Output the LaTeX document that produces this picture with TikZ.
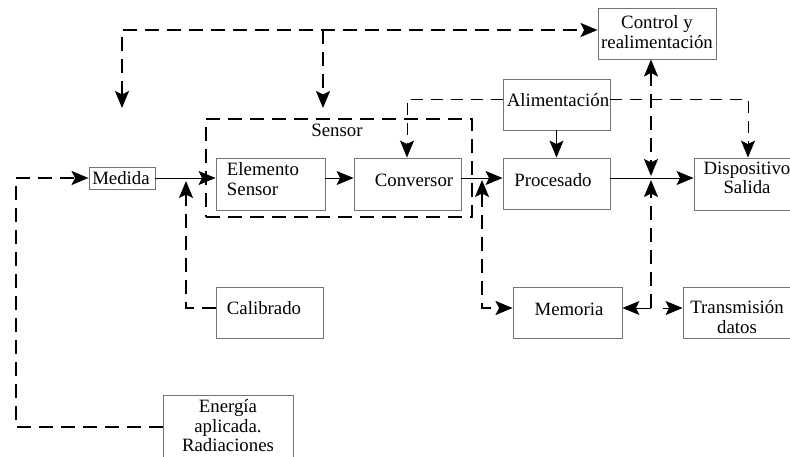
\documentclass[tikz,border=0pt]{standalone}
\usepackage{fontspec}
\setmainfont{Liberation Serif}
\usetikzlibrary{arrows.meta}
\begin{document}
\begin{tikzpicture}[x=1pt,y=-1pt,
 box/.style={draw=black!55, line width=0.9pt, inner sep=0pt},
 txt/.style={font=\fontsize{18.8}{19.5}\selectfont, align=center, inner sep=0pt},
 tip/.style={-{Stealth[length=17pt,width=14pt,inset=3.5pt]}},
 tips/.style={{Stealth[length=17pt,width=14pt,inset=3.5pt]}-{Stealth[length=17pt,width=14pt,inset=3.5pt]}},
 heavy/.style={line width=1.7pt, dash pattern=on 14pt off 8pt},
 light/.style={line width=0.9pt, dash pattern=on 12pt off 8pt},
 flow/.style={line width=0.9pt}]
\useasboundingbox (0,0) rectangle (790,456);
\clip (0,0) rectangle (790,456);

% boxes
\node[box, minimum width=66pt, minimum height=22pt] (med) at (122,178) {};
\node[txt] (medt) at (121,178) {Medida};
\node[box, minimum width=109pt, minimum height=52pt] (es) at (270.5,184) {};
\node[txt, align=left] (est) at (263,179) {Elemento\\Sensor};
\node[box, minimum width=107pt, minimum height=52pt] (conv) at (407.5,184) {};
\node[txt] (convt) at (414,180) {Conversor};
\node[box, minimum width=107pt, minimum height=51pt] (proc) at (556.5,183.5) {};
\node[txt] (proct) at (553,180) {Procesado};
\node[box, minimum width=107pt, minimum height=51pt] (ali) at (556.5,104.5) {};
\node[txt] (alit) at (558,100) {Alimentación};
\node[box, minimum width=118pt, minimum height=51pt] (ctrl) at (657,33.5) {};
\node[txt] (ctrlt) at (657,32) {Control y\\realimentación};
\node[box, minimum width=106pt, minimum height=52pt] (disp) at (747,184) {};
\node[txt] (dispt) at (747,178) {Dispositivo\\Salida};
\node[box, minimum width=107pt, minimum height=51pt] (cal) at (269.5,312.5) {};
\node[txt] (calt) at (264,308) {Calibrado};
\node[box, minimum width=109pt, minimum height=51pt] (mem) at (567.5,312.5) {};
\node[txt] (memt) at (569,309) {Memoria};
\node[box, minimum width=117pt, minimum height=51pt] (trans) at (741.5,312.5) {};
\node[txt] (transt) at (737,317) {Transmisión\\datos};
\node[box, minimum width=130pt, minimum height=75pt] (ener) at (228,432.5) {};
\node[txt] (enert) at (228,426) {Energía\\aplicada.\\Radiaciones};

% sensor group
\node[heavy, draw, minimum width=266pt, minimum height=98pt, inner sep=0pt] (sens) at (339,168) {};
\node[txt] (senst) at (337,130) {Sensor};

% helper coordinates
\coordinate (r) at (0,178);
\coordinate (ya) at (0,99);
\coordinate (ym) at (0,308);
\coordinate (t1) at (122,108);
\coordinate (t2) at (323,108);
\coordinate (c1) at (122,30);
\coordinate (c2) at (323,30);
\coordinate (e1) at (16,427);
\coordinate (e2) at (16,178);
\coordinate (k1) at (186,308);
\coordinate (k2) at (186,181);
\coordinate (m1) at (482,180);
\coordinate (m2) at (482,308);
\coordinate (j0) at (651,176);
\coordinate (j1) at (651,180);
\coordinate (j2) at (651,308);
\coordinate (j3) at (663,308);
\coordinate (a1) at (407,99);
\coordinate (a2) at (748,99);

% solid flow
\draw[flow,tip] (med.east) -- (med.east -| es.west);
\draw[flow,tip] (es.east |- r) -- (conv.west |- r);
\draw[flow,tip] (conv.east |- r) -- (proc.west |- r);
\draw[flow,tip] (proc.east |- r) -- (disp.west |- r);
\draw[flow,tip] (ali.south) -- (proc.north);

% dashed heavy
\draw[heavy,tips] (t1) -- (c1) -- (ctrl.west |- c1);
\draw[heavy,tip] (c2) -- (t2);
\draw[heavy,tip] (ener.west |- e1) -- (e1) -- (e2) -- (med.west);
\draw[heavy,tip] (cal.west |- ym) -- (k1) -- (k2);
\draw[heavy,tips] (m1) -- (m2) -- (mem.west |- ym);
\draw[heavy,tips] (ctrl.south -| j0) -- (j0);
\draw[heavy,tip] (j2) -- (j1);
\draw[flow,tip] (j2) -- (mem.east |- j2);
\draw[flow,tip] (j3) -- (trans.west |- j3);

% dashed light
\draw[light,tip] (ali.west |- ya) -- (a1) -- (conv.north -| a1);
\draw[light,tip] (ali.east |- ya) -- (a2) -- (disp.north -| a2);
\end{tikzpicture}
\end{document}
